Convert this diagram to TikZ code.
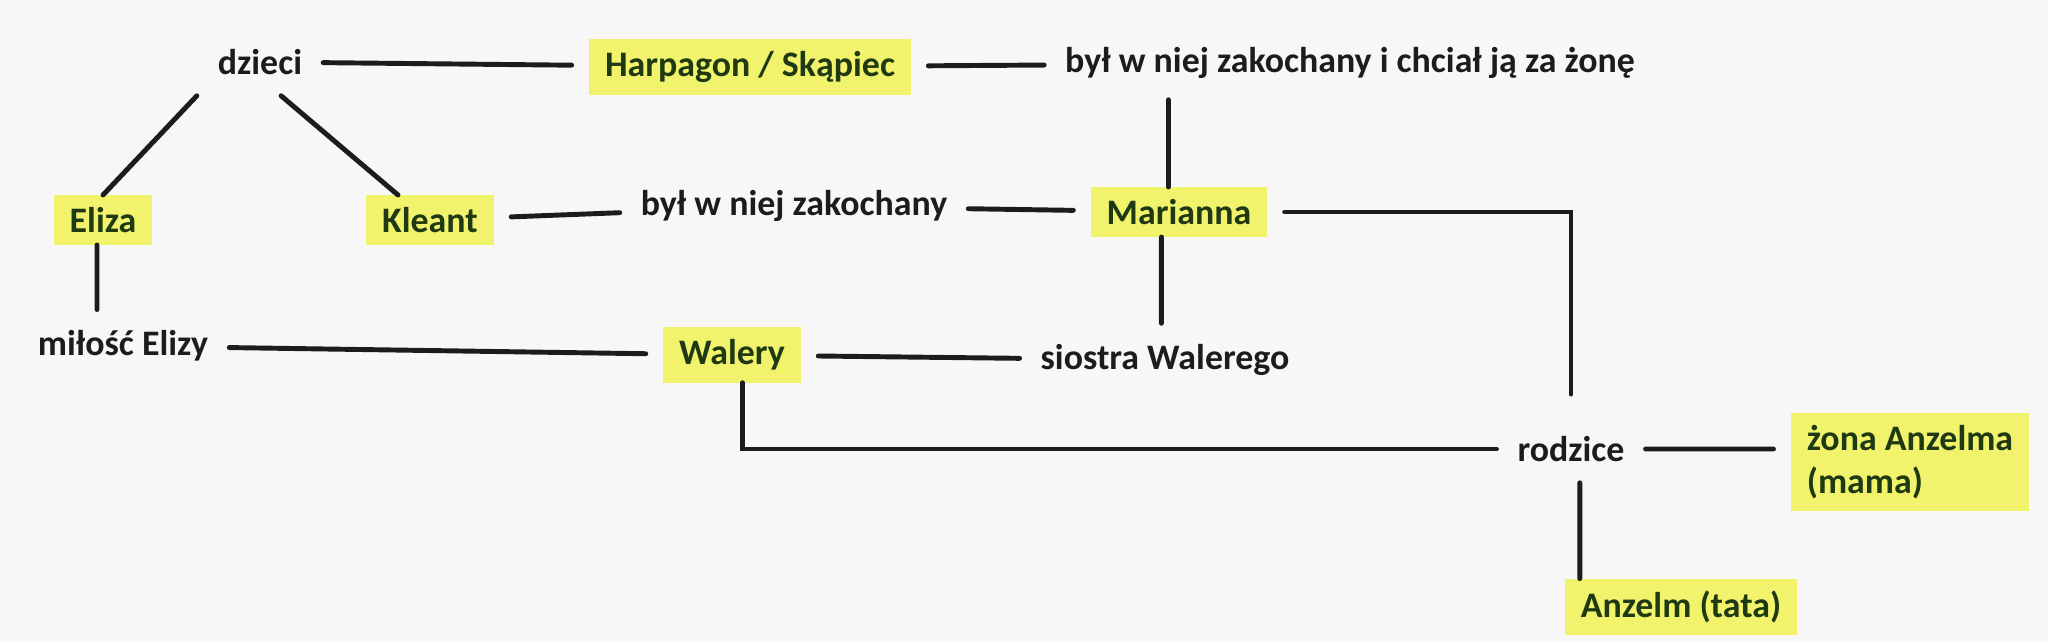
\documentclass[tikz,border=0pt]{standalone}
\usepackage{fontspec}
\setmainfont{Carlito}
\usepackage{xcolor}
\usetikzlibrary{positioning}

\definecolor{paper}{HTML}{F7F7F7}
\definecolor{marker}{HTML}{F2F36C}
\definecolor{ink}{HTML}{1C1C1C}
\definecolor{leaf}{HTML}{1F3A12}

\begin{document}
\begin{tikzpicture} [
	x=0.01cm, y=-0.01cm, % one unit is one pixel of the scan
	line width=1.4pt, line cap=round, draw=ink,
	every node/.style={font=\fontsize{10.2}{12}\selectfont\bfseries, align=left},
	relation/.style={text=ink, inner sep=0pt, outer sep=6pt}, % plain black words
	person/.style={text=leaf, fill=marker, inner xsep=4.5pt, inner ysep=3.5pt, outer xsep=5pt, outer ysep=0pt}, % highlighted names
	]
	\fill[paper] (0,0) rectangle (2048,642);
	\useasboundingbox (0,0) rectangle (2048,642);

	% top row
	\node[relation] (dzieci) at (260,62) {dzieci};
	\node[person] (harpagon) at (750,67) {Harpagon / Skąpiec};
	\node[relation] (chcial) at (1350,63) {był w niej zakochany i chciał ją za żonę};

	% second row
	\node[person] (eliza) at (103,220) {Eliza};
	\node[person] (kleant) at (430,220) {Kleant};
	\node[relation] (zakochany) at (794,206) {był w niej zakochany};
	\node[person] (marianna) at (1179,212) {Marianna};

	% third row
	\node[relation] (milosc) at (123,346) {miłość Elizy};
	\node[person] (walery) at (732,355) {Walery};
	\node[relation] (siostra) at (1165,360) {siostra Walerego};

	% parents
	\node[relation] (rodzice) at (1571,449) {rodzice};
	\node[person] (zona) at (1910,462) {żona Anzelma\\(mama)};
	\node[person] (anzelm) at (1681,607) {Anzelm (tata)};

	\draw
		(dzieci) -- (harpagon)
		(harpagon) -- (chcial)
		(dzieci.south west) -- (eliza.north)
		(dzieci.-58) -- (kleant.142)
		(kleant) -- (zakochany)
		(zakochany) -- (marianna)
		([xshift=-3pt]marianna.north |- chcial.south) -- ([xshift=-3pt]marianna.north)
		([xshift=-5pt]marianna.south) -- ([xshift=-5pt]marianna.south |- siostra.north)
		(eliza.south -| 97,0) -- (milosc.north -| 97,0)
		(milosc) -- (walery)
		(walery) -- (siostra)
		(rodzice.east) -- (rodzice.east -| zona.west)
		([xshift=2.5pt]rodzice.south) -- ([xshift=2.5pt]rodzice.south |- anzelm.north)
	;
	\draw[shorten >=6pt] (marianna.east) -| (rodzice.north);
	\draw ([xshift=3pt]walery.south) |- (rodzice.west);
\end{tikzpicture}
\end{document}
